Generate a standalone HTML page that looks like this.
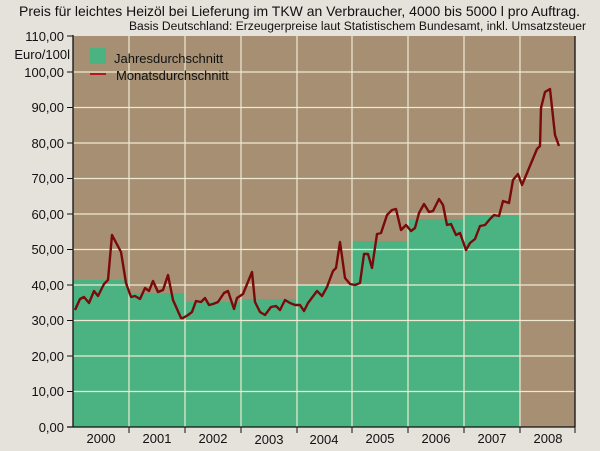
<!DOCTYPE html>
<html><head><meta charset="utf-8"><style>
body{margin:0;background:#e5e1db;}
svg{display:block;font-family:"Liberation Sans",sans-serif;}
</style></head><body>
<svg width="600" height="451" viewBox="0 0 600 451">
<rect width="600" height="451" fill="#e5e1db"/>
<text x="19" y="16" font-size="14" textLength="561" lengthAdjust="spacingAndGlyphs" fill="#111">Preis für leichtes Heizöl bei Lieferung im TKW an Verbraucher, 4000 bis 5000 l pro Auftrag.</text>
<text x="129" y="30" font-size="11.5" textLength="457" lengthAdjust="spacingAndGlyphs" fill="#111">Basis Deutschland: Erzeugerpreise laut Statistischem Bundesamt, inkl. Umsatzsteuer</text>
<rect x="73" y="36" width="502" height="391" fill="#a68f72"/>
<g fill="#4bb382">
<rect x="73" y="280" width="56" height="147"/>
<rect x="129" y="293" width="56" height="134"/>
<rect x="185" y="302" width="56" height="125"/>
<rect x="241" y="299" width="56" height="128"/>
<rect x="297" y="285" width="55" height="142"/>
<rect x="352" y="241" width="56" height="186"/>
<rect x="408" y="219" width="56" height="208"/>
<rect x="464" y="215" width="56" height="212"/>
</g>
<g stroke="#eeead2" stroke-width="1.2">
<line x1="73" y1="391.5" x2="575" y2="391.5"/><line x1="73" y1="356" x2="575" y2="356"/>
<line x1="73" y1="320.5" x2="575" y2="320.5"/><line x1="73" y1="285" x2="575" y2="285"/>
<line x1="73" y1="249.5" x2="575" y2="249.5"/><line x1="73" y1="214" x2="575" y2="214"/>
<line x1="73" y1="178.5" x2="575" y2="178.5"/><line x1="73" y1="143" x2="575" y2="143"/>
<line x1="73" y1="107.5" x2="575" y2="107.5"/><line x1="73" y1="72" x2="575" y2="72"/>
<line x1="129" y1="36" x2="129" y2="427"/><line x1="185" y1="36" x2="185" y2="427"/>
<line x1="241" y1="36" x2="241" y2="427"/><line x1="297" y1="36" x2="297" y2="427"/>
<line x1="352" y1="36" x2="352" y2="427"/><line x1="408" y1="36" x2="408" y2="427"/>
<line x1="464" y1="36" x2="464" y2="427"/><line x1="520" y1="36" x2="520" y2="427"/>
</g>
<polyline fill="none" stroke="#7a0a0a" stroke-width="2.4" stroke-linejoin="round" points="75,310 80,299 84,297 89,303 94,291 98,296 104,284 108,280 112,235 121,252 126,283 131,297 135,296 140,299 145,288 149,291 153,281 158,292 163,290 168,275 173,300 181,318 183,318 188,315 192,312 196,301 201,302 205,298 209,305 213,304 218,302 224,293 228,291 234,309 237,298 243,294 252,272 255,302 260,312 265,315 271,307 276,306 280,310 285,300 290,303 295,305 300,305 304,311 308,303 317,291 322,296 327,287 333,271 336,268 340,242 345,278 350,284 355,285 360,283 364,254 368,254 372,268 377,234 381,233 387,215 392,210 396,209 401,230 406,225 411,231 415,228 419,213 424,204 429,212 433,211 439,199 443,205 447,225 451,224 456,235 460,233 466,250 470,243 475,239 480,226 485,225 490,219 494,215 499,216 503,201 509,203 513,180 518,174 522,185 537,149 540,146 541,108 545,92 550,89 555,135 559,146"/>
<g stroke="#111" stroke-width="1.3">
<line x1="73" y1="35" x2="73" y2="427"/><line x1="575" y1="36" x2="575" y2="427"/>
<line x1="67" y1="427" x2="575" y2="427"/>
</g>
<g stroke="#111" stroke-width="1">
<line x1="67" y1="391.5" x2="73" y2="391.5"/><line x1="67" y1="356" x2="73" y2="356"/>
<line x1="67" y1="320.5" x2="73" y2="320.5"/><line x1="67" y1="285" x2="73" y2="285"/>
<line x1="67" y1="249.5" x2="73" y2="249.5"/><line x1="67" y1="214" x2="73" y2="214"/>
<line x1="67" y1="178.5" x2="73" y2="178.5"/><line x1="67" y1="143" x2="73" y2="143"/>
<line x1="67" y1="107.5" x2="73" y2="107.5"/><line x1="67" y1="72" x2="73" y2="72"/>
<line x1="67" y1="36" x2="73" y2="36"/>
<line x1="129" y1="427" x2="129" y2="433"/><line x1="185" y1="427" x2="185" y2="433"/>
<line x1="241" y1="427" x2="241" y2="433"/><line x1="297" y1="427" x2="297" y2="433"/>
<line x1="352" y1="427" x2="352" y2="433"/><line x1="408" y1="427" x2="408" y2="433"/>
<line x1="464" y1="427" x2="464" y2="433"/><line x1="520" y1="427" x2="520" y2="433"/>
<line x1="575" y1="427" x2="575" y2="433"/>
</g>
<g font-size="13" fill="#111" text-anchor="end">
<text x="64" y="432">0,00</text><text x="64" y="396">10,00</text>
<text x="64" y="361">20,00</text><text x="64" y="325">30,00</text>
<text x="64" y="290">40,00</text><text x="64" y="254">50,00</text>
<text x="64" y="219">60,00</text><text x="64" y="183">70,00</text>
<text x="64" y="148">80,00</text><text x="64" y="112">90,00</text>
<text x="64" y="77">100,00</text><text x="64" y="41">110,00</text>
<text x="70" y="59">Euro/100l</text>
</g>
<g font-size="13" fill="#111" text-anchor="middle">
<text x="101" y="443">2000</text><text x="157" y="443">2001</text>
<text x="213" y="443">2002</text><text x="269" y="444">2003</text>
<text x="324" y="444">2004</text><text x="380" y="443">2005</text>
<text x="436" y="443">2006</text><text x="492" y="443">2007</text>
<text x="548" y="443">2008</text>
</g>
<rect x="90" y="48" width="16" height="16" fill="#4bb382"/>
<line x1="90" y1="74" x2="106" y2="74" stroke="#b01a1a" stroke-width="2"/>
<text x="114" y="63" font-size="13" fill="#111">Jahresdurchschnitt</text>
<text x="116" y="80" font-size="13" fill="#111">Monatsdurchschnitt</text>
</svg>
</body></html>
